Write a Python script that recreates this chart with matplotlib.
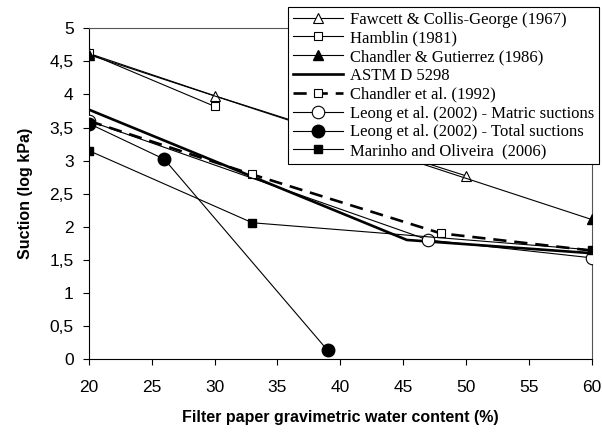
import matplotlib
matplotlib.use("Agg")
import matplotlib.pyplot as plt
from matplotlib.ticker import FuncFormatter

# Data (filter paper water content %, suction log kPa)
fawcett_x = [20, 30, 50]
fawcett_y = [4.62, 3.98, 2.77]
hamblin_x = [20, 30]
hamblin_y = [4.62, 3.82]
chg_x = [20, 60]
chg_y = [4.60, 2.11]
astm_x = [20, 45.3, 60]
astm_y = [3.77, 1.80, 1.60]
chandler92_x = [20, 33, 48, 60]
chandler92_y = [3.60, 2.79, 1.90, 1.64]
leong_m_x = [20, 47, 60]
leong_m_y = [3.60, 1.80, 1.53]
leong_t_x = [20, 26, 39]
leong_t_y = [3.56, 3.02, 0.13]
marinho_x = [20, 33, 60]
marinho_y = [3.15, 2.06, 1.65]

xticks = [20, 25, 30, 35, 40, 45, 50, 55, 60]
yticks = [0, 0.5, 1, 1.5, 2, 2.5, 3, 3.5, 4, 4.5, 5]

fig = plt.figure(figsize=(6.02, 4.33), dpi=100)
ax = fig.add_axes([0.1478, 0.1709, 0.8348, 0.7637])

lw = 0.8
k = 'black'
h = []
h += ax.plot(fawcett_x, fawcett_y, color=k, lw=lw, marker='^', ms=7, mfc='white', mec=k, mew=0.8,
             label='Fawcett & Collis-George (1967)', zorder=3)
h += ax.plot(hamblin_x, hamblin_y, color=k, lw=lw, marker='s', ms=6, mfc='white', mec=k, mew=0.8,
             label='Hamblin (1981)', zorder=3)
h += ax.plot(chg_x, chg_y, color=k, lw=lw, marker='^', ms=7, mfc=k, mec=k,
             label='Chandler & Gutierrez (1986)', zorder=3)
h += ax.plot(astm_x, astm_y, color=k, lw=1.9, label='ASTM D 5298', zorder=2)
h += ax.plot(chandler92_x, chandler92_y, color=k, lw=1.9, dashes=(5, 3), marker='s', ms=6,
             mfc='white', mec=k, mew=0.8, label='Chandler et al. (1992)', zorder=2)
h += ax.plot(leong_m_x, leong_m_y, color=k, lw=lw, marker='o', ms=9, mfc='white', mec=k, mew=0.8,
             label='Leong et al. (2002) - Matric suctions', zorder=4)
h += ax.plot(leong_t_x, leong_t_y, color=k, lw=lw, marker='o', ms=9, mfc=k, mec=k,
             label='Leong et al. (2002) - Total suctions', zorder=4)
h += ax.plot(marinho_x, marinho_y, color=k, lw=lw, marker='s', ms=6, mfc=k, mec=k,
             label='Marinho and Oliveira  (2006)', zorder=4)

ax.set_xlim(20, 60)
ax.set_ylim(0, 5)
ax.set_xticks(xticks)
ax.set_yticks(yticks)
fmt = FuncFormatter(lambda v, p: ('%g' % v).replace('.', ','))
ax.yaxis.set_major_formatter(fmt)
ax.xaxis.set_major_formatter(fmt)
ax.tick_params(direction='out', length=4, width=0.8, labelsize=12.5)
ax.tick_params(axis='x', pad=11)
ax.tick_params(axis='y', pad=7)
for t in ax.get_xticklabels() + ax.get_yticklabels():
    t.set_family('Liberation Sans')
for s in ax.spines.values():
    s.set_linewidth(0.8)
ax.spines['top'].set_color('#555555')
ax.spines['right'].set_color('#555555')

ax.set_xlabel('Filter paper gravimetric water content (%)', fontsize=11.5, fontweight='bold',
              family='Liberation Sans', labelpad=11)
ax.set_ylabel('Suction (log kPa)', fontsize=11.5, fontweight='bold',
              family='Liberation Sans', labelpad=12)

leg = fig.legend(handles=h, loc='upper left', bbox_to_anchor=(288 / 602, 1 - 6.5 / 433),
                 prop={'family': 'Liberation Serif', 'size': 12}, frameon=True, fancybox=False,
                 edgecolor='black', framealpha=1, borderpad=0.3, labelspacing=0.17,
                 handlelength=3.0, handletextpad=0.4, borderaxespad=0)
leg.get_frame().set_linewidth(0.8)

fig.savefig('out.png', dpi=100)
